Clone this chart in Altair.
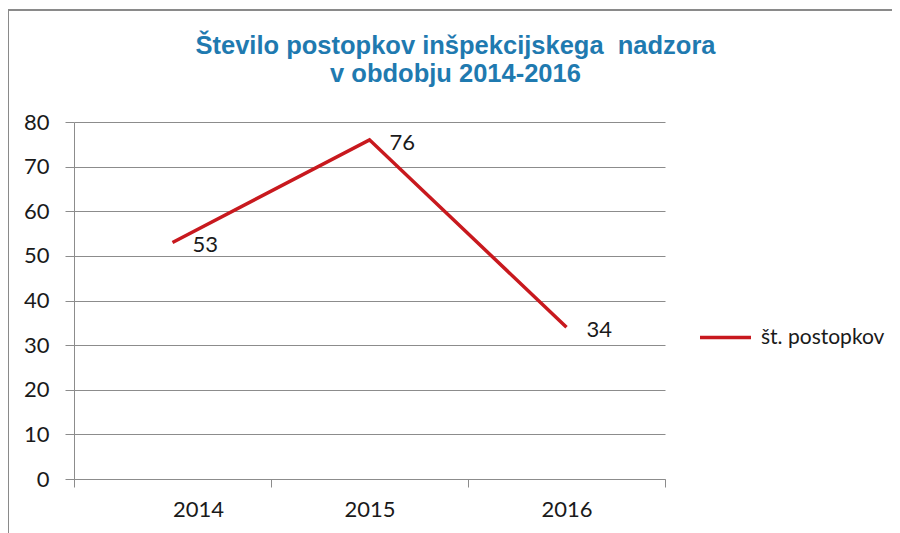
import altair as alt
import pandas as pd

years = [2014, 2015, 2016]
values = [53, 76, 34]
series_name = "št. postopkov"
title_lines = ["Število postopkov inšpekcijskega\u00a0 nadzora", "v obdobju 2014-2016"]
y_ticks = [0, 10, 20, 30, 40, 50, 60, 70, 80]
x_boundaries = [2013.5, 2014.5, 2015.5, 2016.5]

df = pd.DataFrame({"year": years, "value": values, "series": [series_name] * len(years)})

W, H = 591, 357
LINE_COLOR = "#c8191e"
GRID = "#8c8c8c"
FONT = "Lato"

x_enc = alt.X(
    "year:Q",
    scale=alt.Scale(domain=[2013.5, 2016.5], nice=False, zero=False),
    axis=alt.Axis(
        values=x_boundaries,
        labelExpr="datum.value < 2016 ? format(datum.value + 0.5, 'd') : ''",
        labelOffset=W / 6,
        title=None,
        grid=False,
        tickSize=8,
        tickColor=GRID,
        domainColor=GRID,
        labelFont=FONT,
        labelFontSize=22,
        labelColor="#1a1a1a",
        labelPadding=12,
    ),
)
y_enc = alt.Y(
    "value:Q",
    scale=alt.Scale(domain=[0, 80], nice=False),
    axis=alt.Axis(
        values=y_ticks,
        title=None,
        grid=True,
        gridColor=GRID,
        tickSize=9,
        tickColor=GRID,
        domainColor=GRID,
        labelFont=FONT,
        labelFontSize=22,
        labelColor="#1a1a1a",
        labelPadding=16,
    ),
)

base = alt.Chart(df)

line = base.mark_line(strokeWidth=3.5).encode(
    x=x_enc,
    y=y_enc,
    color=alt.Color(
        "series:N",
        scale=alt.Scale(range=[LINE_COLOR]),
        legend=alt.Legend(
            title=None,
            orient="none",
            legendX=624,
            legendY=188,
            symbolType="stroke",
            symbolSize=2600,
            symbolStrokeWidth=3.5,
            labelFont=FONT,
            labelFontSize=21,
            labelColor="#1a1a1a",
            labelOffset=8,
        ),
    ),
)

labels = base.mark_text(align="left", baseline="middle", dx=20, dy=3, fontSize=22, font=FONT, color="#1a1a1a").encode(
    x="year:Q", y="value:Q", text="value:Q"
)

frame_top = alt.Chart(df).mark_rule(color="#888888", strokeWidth=1.5).encode(
    x=alt.value(-66), x2=alt.value(830), y=alt.value(-112)
)
frame_left = alt.Chart(df).mark_rule(color="#888888", strokeWidth=1.5).encode(
    x=alt.value(-66), y=alt.value(-112), y2=alt.value(420)
)

chart = (
    alt.layer(frame_top, frame_left, line, labels)
    .properties(
        width=W,
        height=H,
        title=alt.TitleParams(
            text=title_lines,
            anchor="middle",
            dx=86,
            offset=0,
            dy=78,
            font="Liberation Sans",
            fontSize=25.5,
            fontWeight="bold",
            color="#1f7ab0",
            lineHeight=28,
        ),
        autosize=alt.AutoSizeParams(type="none"),
        padding={"left": 66, "top": 114, "right": 227, "bottom": 54},
    )
    .configure_view(stroke=None)
)

chart.save("out.html", embed_options={"renderer": "svg", "actions": False})
